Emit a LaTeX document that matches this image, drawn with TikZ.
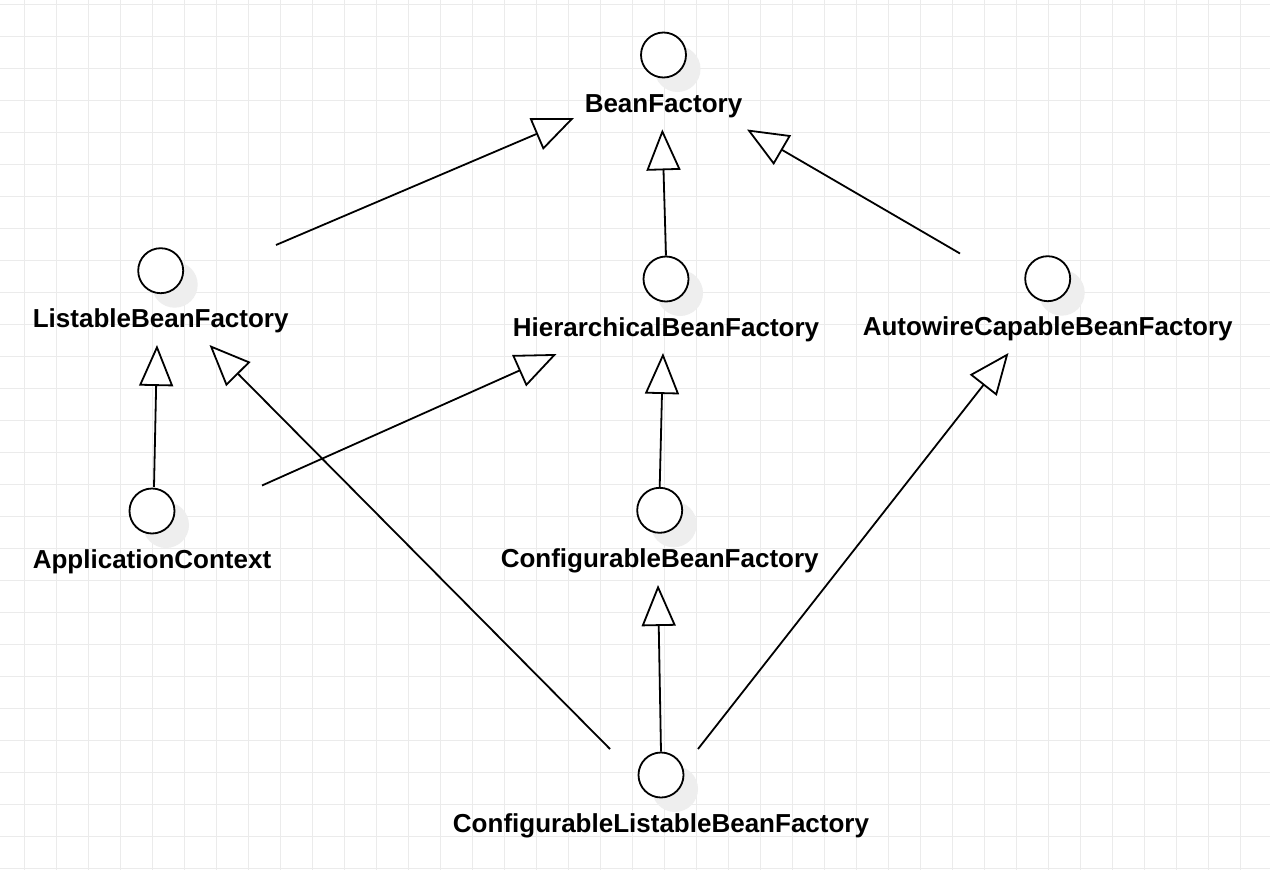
\documentclass[tikz,border=0pt]{standalone}
\usepackage{fontspec}
\setmainfont{Liberation Sans}
\usetikzlibrary{arrows.meta}
\definecolor{gridc}{HTML}{EBEBEB}
\definecolor{shadowgray}{HTML}{EEEEEE}
\begin{document}
\begin{tikzpicture}[x=1pt,y=-1pt,
  gridline/.style={draw=gridc,line width=1pt},
  circ/.style={circle,draw=black,line width=1.8pt,fill=white,minimum size=45pt,inner sep=0pt},
  shad/.style={circle,fill=shadowgray,minimum size=46pt,inner sep=0pt},
  lbl/.style={anchor=base,font=\fontsize{26}{30}\selectfont\bfseries,inner sep=0pt},
  gen/.style={line width=1.8pt,-{Triangle[open,fill=white,length=41pt,width=34pt]}}]
\fill[white] (0,0) rectangle (1270,870);
\useasboundingbox (0,0) rectangle (1270,870);
\foreach \i in {0,...,39} {\draw[gridline] ({24.5+32*\i},0) -- ({24.5+32*\i},870);}
\foreach \j in {0,...,27} {\draw[gridline] (0,{4.5+32*\j}) -- (1270,{4.5+32*\j});}

% interfaces: shadow, circle, label
\node[shad] (bfs) at (677.5,69) {};
\node[circ] (bf) at (663.5,55) {};
\node[lbl] (bft) at (663.5,112) {BeanFactory};

\node[shad] (lbfs) at (174.7,284.7) {};
\node[circ] (lbf) at (160.7,270.7) {};
\node[lbl] (lbft) at (160.7,327.7) {ListableBeanFactory};

\node[shad] (hbfs) at (680,293) {};
\node[circ] (hbf) at (666,279) {};
\node[lbl] (hbft) at (666,336) {HierarchicalBeanFactory};

\node[shad] (acbfs) at (1061.7,292.7) {};
\node[circ] (acbf) at (1047.7,278.7) {};
\node[lbl] (acbft) at (1047.7,335.7) {AutowireCapableBeanFactory};

\node[shad] (acs) at (166,525) {};
\node[circ] (ac) at (152,511) {};
\node[lbl] (act) at (152,568) {ApplicationContext};

\node[shad] (cbfs) at (673.7,524.3) {};
\node[circ] (cbf) at (659.7,510.3) {};
\node[lbl] (cbft) at (659.7,567.3) {ConfigurableBeanFactory};

\node[shad] (clbfs) at (675,789) {};
\node[circ] (clbf) at (661,775) {};
\node[lbl] (clbft) at (661,832) {ConfigurableListableBeanFactory};

% connector end points
\coordinate (lbfOut) at (276,245);
\coordinate (bfInL) at (574,118);
\coordinate (bfInM) at (662.3,129.3);
\coordinate (acbfOut) at (960,253.5);
\coordinate (bfInR) at (747,129.5);
\coordinate (acOutL) at (154,487);
\coordinate (lbfInM) at (157,345);
\coordinate (acOutR) at (262,485.5);
\coordinate (hbfInL) at (556.5,354);
\coordinate (hbfInM) at (663,353);
\coordinate (clbfOutL) at (610,749);
\coordinate (lbfInR) at (209.5,345);
\coordinate (cbfInM) at (658,585);
\coordinate (clbfOutR) at (698,749);
\coordinate (acbfIn) at (1008.5,353);

% generalization connectors
\draw[gen] (lbfOut) -- (bfInL);
\draw[gen] (hbf.north) -- (bfInM);
\draw[gen] (acbfOut) -- (bfInR);
\draw[gen] (acOutL) -- (lbfInM);
\draw[gen] (acOutR) -- (hbfInL);
\draw[gen] (cbf.north) -- (hbfInM);
\draw[gen] (clbfOutL) -- (lbfInR);
\draw[gen] (clbf.north) -- (cbfInM);
\draw[gen] (clbfOutR) -- (acbfIn);
\end{tikzpicture}
\end{document}
